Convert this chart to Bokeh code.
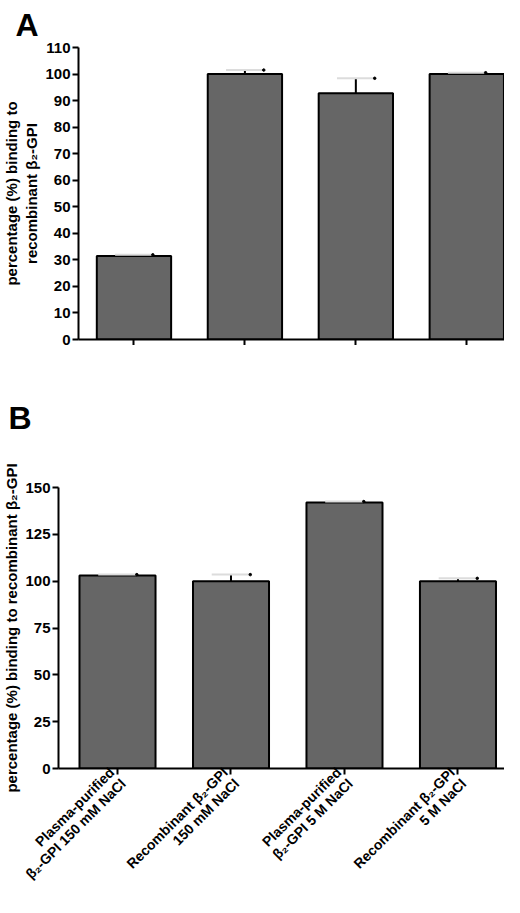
from bokeh.plotting import figure
from bokeh.layouts import column
from bokeh.models import Range1d, FixedTicker
from bokeh.embed import file_html
from bokeh.resources import INLINE

# data
groups = ["Plasma-purified\nβ₂-GPI 150 mM NaCl", "Recombinant β₂-GPI\n150 mM NaCl",
          "Plasma-purified\nβ₂-GPI 5 M NaCl", "Recombinant β₂-GPI\n5 M NaCl"]
pos = [0, 1, 2, 3]
binding_a = [31.5, 100, 92.8, 100]
err_a = [0.4, 1.5, 5.6, 0.5]
binding_b = [103, 100, 142, 100]
err_b = [0.5, 3.5, 0.5, 1.5]
ticks_a = list(range(0, 111, 10))
ticks_b = [0, 25, 50, 75, 100, 125, 150]

FONT = "Liberation Sans"
BAR = "#666666"


def panel(letter, vals, errs, ymax, yticks, width, height, x_start, x_end,
          ylabel, title_gap, title_offset, show_x):
    p = figure(width=width, height=height, title=letter,
               x_range=Range1d(x_start, x_end), y_range=Range1d(0, ymax),
               output_backend="svg", toolbar_location=None)
    p.frame_align = False
    p.title.text_font = FONT
    p.title.text_font_size = "32px"
    p.title.text_font_style = "bold"
    p.title.text_color = "black"
    p.title.offset = title_offset
    p.title.standoff = title_gap
    p.outline_line_color = None
    p.grid.visible = False
    p.min_border_right = 0
    p.min_border_left = 0

    p.vbar(x=pos, top=vals, width=0.67, bottom=0,
           fill_color=BAR, line_color="black", line_width=2)

    # one-sided error bars, GraphPad style
    tops = [v + e for v, e in zip(vals, errs)]
    p.segment(x0=pos, y0=vals, x1=pos, y1=tops, line_color="black", line_width=2)
    p.segment(x0=[x - 0.17 for x in pos], y0=tops, x1=[x + 0.17 for x in pos], y1=tops,
              line_color="#dcdcdc", line_width=2)
    p.scatter(x=[x + 0.17 for x in pos], y=tops, size=2.5, color="black")

    for ax in (p.xaxis, p.yaxis):
        ax.axis_line_width = 2
        ax.major_tick_line_width = 2
        ax.major_tick_out = 6
        ax.major_tick_in = 0
        ax.minor_tick_line_color = None
        ax.major_label_text_font = FONT
        ax.major_label_text_font_style = "bold"
        ax.major_label_text_color = "black"

    p.yaxis.ticker = FixedTicker(ticks=yticks)
    p.yaxis.major_label_text_font_size = "15px"
    p.yaxis.major_label_standoff = 2
    p.yaxis.axis_label = ylabel
    p.yaxis.axis_label_text_font = FONT
    p.yaxis.axis_label_text_font_size = "15px"
    p.yaxis.axis_label_text_font_style = "bold"
    p.yaxis.axis_label_text_color = "black"
    p.yaxis.axis_label_standoff = 2

    p.xaxis.ticker = FixedTicker(ticks=pos)
    if show_x:
        p.xaxis.major_label_overrides = {i: g for i, g in zip(pos, groups)}
        p.xaxis.major_label_text_font_size = "14px"
        p.xaxis.major_label_text_line_height = 1.0
        p.xaxis.major_label_orientation = 0.785
        p.xaxis.major_label_standoff = 1
    else:
        p.xaxis.major_label_overrides = {i: "" for i in pos}
        p.xaxis.major_label_standoff = 0
    return p


pa = panel("A", binding_a, err_a, 110, yticks=ticks_a, width=504, height=345,
           x_start=-0.5, x_end=3.34,
           ylabel="percentage (%) binding to\nrecombinant β₂-GPI",
           title_gap=9, title_offset=-63, show_x=False)
pb = panel("B", binding_b, err_b, 150, yticks=ticks_b, width=504, height=552,
           x_start=-0.52, x_end=3.41,
           ylabel="percentage (%) binding to recombinant β₂-GPI",
           title_gap=104, title_offset=-50, show_x=True)

layout = column(pa, pb, spacing=0)
open("out.html", "w").write(file_html(layout, INLINE))
